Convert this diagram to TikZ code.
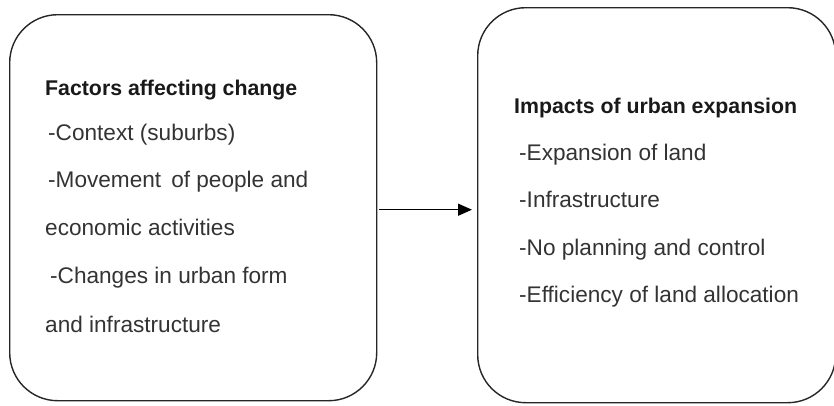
\documentclass[tikz,border=0pt]{standalone}
\usepackage{fontspec}
\setmainfont{Liberation Sans}
\usetikzlibrary{arrows.meta}
\begin{document}
\begin{tikzpicture}[x=1pt,y=-1pt,
  panel/.style={draw=black!85,line width=1.4pt,rounded corners=48pt,inner sep=0pt,anchor=north west},
  head/.style={anchor=base west,inner sep=0pt,font=\fontsize{21.3}{24}\selectfont\bfseries,text=black!90},
  item/.style={anchor=base west,inner sep=0pt,font=\fontsize{22.6}{26}\selectfont,text=black!80},
  link/.style={draw=black,line width=1.3pt,-{Triangle[length=14pt,width=12pt]}}]
\useasboundingbox (0,0) rectangle (834,405);
\node[panel,minimum width=367pt,minimum height=386pt] (L) at (9,14) {};
\node[panel,minimum width=358pt,minimum height=395pt] (R) at (477,7) {};
\node[head] (l0) at (45,95) {Factors affecting change};
\node[item] (l1) at (48,140) {-Context (suburbs)};
\node[item] (l2) at (48,187) {-Movement\, of people and};
\node[item] (l3) at (45,235) {economic activities};
\node[item] (l4) at (50,283) {-Changes in urban form};
\node[item] (l5) at (45,332) {and infrastructure};
\node[head] (r0) at (514,113) {Impacts of urban expansion};
\node[item] (r1) at (519,160) {-Expansion of land};
\node[item] (r2) at (519,207) {-Infrastructure};
\node[item] (r3) at (519,255) {-No planning and control};
\node[item] (r4) at (519,302) {-Efficiency of land allocation};
\draw[link,shorten <=2pt,shorten >=5pt] ([yshift=-2pt]L.east) -- ([yshift=-2pt]L.east -| R.west);
\end{tikzpicture}
\end{document}
